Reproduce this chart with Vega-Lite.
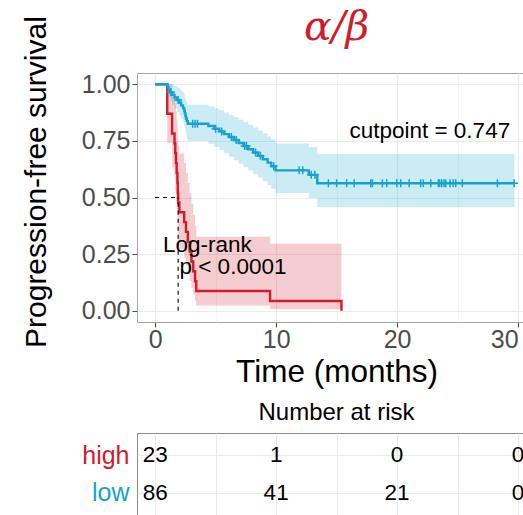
{
  "$schema": "https://vega.github.io/schema/vega-lite/v6.json",
  "background": "white",
  "autosize": {"type": "pad"},
  "padding": {"left": 20, "top": 6, "right": 0, "bottom": 1},
  "config": {
    "font": "Liberation Sans",
    "view": {"stroke": "#A6A6A6", "strokeWidth": 1},
    "axis": {"labelFont": "Liberation Sans", "titleFont": "Liberation Sans", "titleFontWeight": "normal", "titleColor": "black"}
  },
  "datasets": {
    "km": [
      {"group": "high", "t": 0, "s": 1, "lo": 1, "hi": 1},
      {"group": "high", "t": 1.0, "s": 0.870, "lo": 0.742, "hi": 1},
      {"group": "high", "t": 1.4, "s": 0.783, "lo": 0.632, "hi": 0.970},
      {"group": "high", "t": 1.6, "s": 0.739, "lo": 0.580, "hi": 0.942},
      {"group": "high", "t": 1.66, "s": 0.696, "lo": 0.531, "hi": 0.912},
      {"group": "high", "t": 1.72, "s": 0.652, "lo": 0.484, "hi": 0.879},
      {"group": "high", "t": 1.78, "s": 0.609, "lo": 0.439, "hi": 0.845},
      {"group": "high", "t": 1.84, "s": 0.565, "lo": 0.395, "hi": 0.809},
      {"group": "high", "t": 1.87, "s": 0.522, "lo": 0.353, "hi": 0.772},
      {"group": "high", "t": 1.9, "s": 0.478, "lo": 0.312, "hi": 0.733},
      {"group": "high", "t": 2.0, "s": 0.435, "lo": 0.273, "hi": 0.693},
      {"group": "high", "t": 2.4, "s": 0.391, "lo": 0.235, "hi": 0.651},
      {"group": "high", "t": 2.55, "s": 0.348, "lo": 0.199, "hi": 0.609},
      {"group": "high", "t": 2.7, "s": 0.304, "lo": 0.164, "hi": 0.564},
      {"group": "high", "t": 2.85, "s": 0.261, "lo": 0.131, "hi": 0.519},
      {"group": "high", "t": 3.0, "s": 0.217, "lo": 0.100, "hi": 0.471},
      {"group": "high", "t": 3.15, "s": 0.174, "lo": 0.071, "hi": 0.424},
      {"group": "high", "t": 3.3, "s": 0.130, "lo": 0.045, "hi": 0.374},
      {"group": "high", "t": 3.4, "s": 0.087, "lo": 0.023, "hi": 0.327},
      {"group": "high", "t": 9.5, "s": 0.043, "lo": 0.0064, "hi": 0.296},
      {"group": "high", "t": 15.4, "s": 0, "lo": 0.0064, "hi": 0.296},
      {"group": "low", "t": 0, "s": 1, "lo": 1, "hi": 1},
      {"group": "low", "t": 1.0, "s": 0.9884, "lo": 0.966, "hi": 1},
      {"group": "low", "t": 1.1, "s": 0.9767, "lo": 0.9453, "hi": 1},
      {"group": "low", "t": 1.25, "s": 0.9651, "lo": 0.9271, "hi": 1},
      {"group": "low", "t": 1.4, "s": 0.9535, "lo": 0.910, "hi": 0.9991},
      {"group": "low", "t": 1.6, "s": 0.9419, "lo": 0.8937, "hi": 0.9927},
      {"group": "low", "t": 1.8, "s": 0.9302, "lo": 0.8779, "hi": 0.9857},
      {"group": "low", "t": 2.0, "s": 0.9186, "lo": 0.8626, "hi": 0.9782},
      {"group": "low", "t": 2.15, "s": 0.9070, "lo": 0.8477, "hi": 0.9705},
      {"group": "low", "t": 2.3, "s": 0.8953, "lo": 0.8329, "hi": 0.9625},
      {"group": "low", "t": 2.4, "s": 0.8837, "lo": 0.8185, "hi": 0.9541},
      {"group": "low", "t": 2.45, "s": 0.8721, "lo": 0.8043, "hi": 0.9456},
      {"group": "low", "t": 2.5, "s": 0.8605, "lo": 0.7903, "hi": 0.9369},
      {"group": "low", "t": 2.55, "s": 0.8488, "lo": 0.7764, "hi": 0.9280},
      {"group": "low", "t": 2.62, "s": 0.8372, "lo": 0.7627, "hi": 0.9190},
      {"group": "low", "t": 2.7, "s": 0.8256, "lo": 0.7491, "hi": 0.9099},
      {"group": "low", "t": 4.4, "s": 0.816, "lo": 0.737, "hi": 0.903},
      {"group": "low", "t": 4.9, "s": 0.804, "lo": 0.723, "hi": 0.894},
      {"group": "low", "t": 5.3, "s": 0.792, "lo": 0.709, "hi": 0.885},
      {"group": "low", "t": 5.7, "s": 0.780, "lo": 0.695, "hi": 0.876},
      {"group": "low", "t": 6.1, "s": 0.767, "lo": 0.680, "hi": 0.865},
      {"group": "low", "t": 6.5, "s": 0.754, "lo": 0.665, "hi": 0.855},
      {"group": "low", "t": 6.9, "s": 0.741, "lo": 0.650, "hi": 0.844},
      {"group": "low", "t": 7.3, "s": 0.727, "lo": 0.635, "hi": 0.833},
      {"group": "low", "t": 7.7, "s": 0.713, "lo": 0.619, "hi": 0.821},
      {"group": "low", "t": 8.1, "s": 0.699, "lo": 0.604, "hi": 0.809},
      {"group": "low", "t": 8.5, "s": 0.684, "lo": 0.588, "hi": 0.796},
      {"group": "low", "t": 8.9, "s": 0.669, "lo": 0.571, "hi": 0.783},
      {"group": "low", "t": 9.3, "s": 0.654, "lo": 0.555, "hi": 0.770},
      {"group": "low", "t": 9.6, "s": 0.638, "lo": 0.538, "hi": 0.756},
      {"group": "low", "t": 9.95, "s": 0.620, "lo": 0.520, "hi": 0.739},
      {"group": "low", "t": 12.7, "s": 0.600, "lo": 0.498, "hi": 0.723},
      {"group": "low", "t": 13.4, "s": 0.563, "lo": 0.458, "hi": 0.692},
      {"group": "low", "t": 29.7, "s": 0.563, "lo": 0.458, "hi": 0.692}
    ],
    "censor": [
      {"group": "low", "t": 1.3, "s": 0.9651},
      {"group": "low", "t": 1.9, "s": 0.9302},
      {"group": "low", "t": 3.1, "s": 0.8256},
      {"group": "low", "t": 3.3, "s": 0.8256},
      {"group": "low", "t": 3.5, "s": 0.8256},
      {"group": "low", "t": 5.0, "s": 0.804},
      {"group": "low", "t": 5.5, "s": 0.792},
      {"group": "low", "t": 6.3, "s": 0.767},
      {"group": "low", "t": 6.7, "s": 0.754},
      {"group": "low", "t": 7.4, "s": 0.727},
      {"group": "low", "t": 7.55, "s": 0.727},
      {"group": "low", "t": 8.3, "s": 0.699},
      {"group": "low", "t": 8.7, "s": 0.684},
      {"group": "low", "t": 9.8, "s": 0.638},
      {"group": "low", "t": 11.9, "s": 0.620},
      {"group": "low", "t": 12.2, "s": 0.620},
      {"group": "low", "t": 12.9, "s": 0.600},
      {"group": "low", "t": 13.2, "s": 0.600},
      {"group": "low", "t": 14.32, "s": 0.563},
      {"group": "low", "t": 15.0, "s": 0.563},
      {"group": "low", "t": 15.83, "s": 0.563},
      {"group": "low", "t": 16.45, "s": 0.563},
      {"group": "low", "t": 17.82, "s": 0.563},
      {"group": "low", "t": 17.96, "s": 0.563},
      {"group": "low", "t": 18.78, "s": 0.563},
      {"group": "low", "t": 19.14, "s": 0.563},
      {"group": "low", "t": 19.97, "s": 0.563},
      {"group": "low", "t": 20.3, "s": 0.563},
      {"group": "low", "t": 20.99, "s": 0.563},
      {"group": "low", "t": 21.95, "s": 0.563},
      {"group": "low", "t": 22.17, "s": 0.563},
      {"group": "low", "t": 22.78, "s": 0.563},
      {"group": "low", "t": 23.41, "s": 0.563},
      {"group": "low", "t": 23.52, "s": 0.563},
      {"group": "low", "t": 23.69, "s": 0.563},
      {"group": "low", "t": 23.88, "s": 0.563},
      {"group": "low", "t": 24.02, "s": 0.563},
      {"group": "low", "t": 24.38, "s": 0.563},
      {"group": "low", "t": 24.63, "s": 0.563},
      {"group": "low", "t": 24.84, "s": 0.563},
      {"group": "low", "t": 25.39, "s": 0.563},
      {"group": "low", "t": 28.29, "s": 0.563},
      {"group": "low", "t": 29.67, "s": 0.563}
    ],
    "median": [
      {"t": 0, "s": 0.5, "t2": 1.9, "s2": 0.5},
      {"t": 1.9, "s": 0, "t2": 1.9, "s2": 0.5}
    ],
    "notes": [
      {"label": "cutpoint = 0.747", "t": 22.7, "s": 0.795},
      {"label": "Log-rank", "t": 4.32, "s": 0.291},
      {"label": "p < 0.0001", "t": 6.43, "s": 0.192}
    ],
    "risk": [
      {"group": "high", "t": 0, "n": 23},
      {"group": "high", "t": 10, "n": 1},
      {"group": "high", "t": 20, "n": 0},
      {"group": "high", "t": 30, "n": 0},
      {"group": "low", "t": 0, "n": 86},
      {"group": "low", "t": 10, "n": 41},
      {"group": "low", "t": 20, "n": 21},
      {"group": "low", "t": 30, "n": 0}
    ]
  },
  "spacing": 111,
  "bounds": "flush",
  "vconcat": [
    {
      "width": 388,
      "height": 249,
      "title": {"text": "α/β", "font": "DejaVu Serif", "fontStyle": "italic", "fontWeight": "normal", "fontSize": 41, "color": "#D01C2B", "offset": -33, "dx": 5.5},
      "encoding": {
        "x": {"field": "t", "type": "quantitative",
          "scale": {"domain": [-1.5, 30.57], "nice": false, "zero": false},
          "axis": {"title": "Time (months)", "titleFontSize": 31.5, "titlePadding": 4, "titleX": 199.5,
            "values": [0, 5, 10, 15, 20, 25, 30], "labelExpr": "datum.value % 10 === 0 ? datum.label : ''",
            "labelOverlap": false, "labelFlush": 8, "labelFontSize": 25, "labelColor": "#4D4D4D", "labelPadding": 0,
            "tickSize": 5, "tickColor": "#4D4D4D",
            "tickOpacity": {"condition": {"test": "datum.value % 10 === 0", "value": 1}, "value": 0},
            "gridColor": "#EBEBEB",
            "gridWidth": {"condition": {"test": "datum.value % 10 === 0", "value": 1.2}, "value": 0.6},
            "domain": false}
        }
      },
      "layer": [
        {
          "data": {"name": "km"},
          "mark": {"type": "area", "interpolate": "step-after", "opacity": 0.22},
          "encoding": {
            "y": {"field": "lo", "type": "quantitative", "scale": {"domain": [-0.05, 1.05], "nice": false, "zero": false},
              "axis": {"title": "Progression-free survival", "titleFontSize": 30, "titlePadding": 30, "titleY": 108.6,
                "values": [0, 0.125, 0.25, 0.375, 0.5, 0.625, 0.75, 0.875, 1],
                "labelExpr": "datum.value * 4 % 1 === 0 ? format(datum.value, '.2f') : ''",
                "labelOverlap": false, "labelFontSize": 25, "labelColor": "#4D4D4D", "labelPadding": 2,
                "tickSize": 5, "tickColor": "#4D4D4D",
                "tickOpacity": {"condition": {"test": "datum.value * 4 % 1 === 0", "value": 1}, "value": 0},
                "gridColor": "#EBEBEB",
                "gridWidth": {"condition": {"test": "datum.value * 4 % 1 === 0", "value": 1.2}, "value": 0.6},
                "domain": false}},
            "y2": {"field": "hi"},
            "color": {"field": "group", "type": "nominal", "scale": {"domain": ["high", "low"], "range": ["#D01C2B", "#14A3D0"]}, "legend": null}
          }
        },
        {
          "data": {"name": "km"},
          "mark": {"type": "line", "interpolate": "step-after", "strokeWidth": 2.4},
          "encoding": {
            "y": {"field": "s", "type": "quantitative"},
            "color": {"field": "group", "type": "nominal", "legend": null}
          }
        },
        {
          "data": {"name": "censor"},
          "mark": {"type": "point", "shape": "M0,-1L0,1M-1,0L1,0", "filled": false, "strokeWidth": 1.5, "size": 64, "opacity": 1},
          "encoding": {
            "y": {"field": "s", "type": "quantitative"},
            "color": {"field": "group", "type": "nominal", "legend": null}
          }
        },
        {
          "data": {"name": "median"},
          "mark": {"type": "rule", "color": "black", "strokeDash": [4, 4], "strokeWidth": 1.1},
          "encoding": {
            "x2": {"field": "t2"},
            "y": {"field": "s", "type": "quantitative"},
            "y2": {"field": "s2"}
          }
        },
        {
          "data": {"name": "notes"},
          "mark": {"type": "text", "fontSize": 22.5, "font": "Liberation Sans", "color": "black"},
          "encoding": {
            "y": {"field": "s", "type": "quantitative"},
            "text": {"field": "label"}
          }
        }
      ]
    },
    {
      "width": 388,
      "height": 82,
      "view": {"stroke": "#8C8C8C"},
      "title": {"text": "Number at risk", "fontSize": 24, "font": "Liberation Sans", "fontWeight": "normal", "offset": 8, "dx": 5.5, "color": "black"},
      "data": {"name": "risk"},
      "mark": {"type": "text", "fontSize": 22.5, "font": "Liberation Sans", "color": "black"},
      "encoding": {
        "x": {"field": "t", "type": "quantitative",
          "scale": {"domain": [-1.5, 30.57], "nice": false, "zero": false},
          "axis": {"values": [0, 5, 10, 15, 20, 25, 30], "labels": false, "ticks": false, "domain": false, "title": null, "grid": true, "gridColor": "#EBEBEB", "gridWidth": 1}},
        "y": {"field": "group", "type": "nominal",
          "scale": {"domain": ["high", "low"], "padding": 0.6},
          "axis": {"title": null, "labelFontSize": 25, "labelPadding": 8, "ticks": false, "domain": false, "grid": true, "gridColor": "#EBEBEB", "gridWidth": 1.2,
            "labelColor": {"condition": {"test": "datum.value === 'high'", "value": "#D01C2B"}, "value": "#14A3D0"}}},
        "text": {"field": "n", "type": "quantitative"}
      }
    }
  ]
}
